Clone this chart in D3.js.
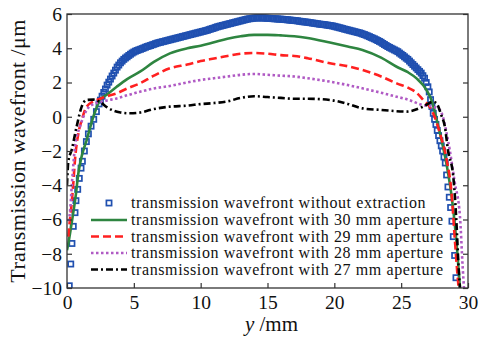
<!DOCTYPE html>
<html>
<head>
<meta charset="UTF-8">
<title></title>
<script src="https://cdn.jsdelivr.net/npm/d3@7"></script>
<style>
  body { margin: 0; background: #fff; }
</style>
</head>
<body>
<div id="chart"></div>
<script>
var serif = "'Liberation Serif', 'Times New Roman', serif";

// tick labels
var xTicks = [0, 5, 10, 15, 20, 25, 30];
var yTicks = [-10, -8, -6, -4, -2, 0, 2, 4, 6];

// legend labels
var labels = [
  "transmission wavefront without extraction",
  "transmission wavefront with 30 mm aperture",
  "transmission wavefront with 29 mm aperture",
  "transmission wavefront with 28 mm aperture",
  "transmission wavefront with 27 mm aperture"
];

// without extraction (square markers)
var blueX = [0.17, 0.28, 0.37, 0.47, 0.6, 0.67, 0.8, 0.92, 1.05, 1.15, 1.3, 1.45, 1.6, 1.8, 2.0, 2.2, 2.4, 2.5,
  2.625, 2.75, 2.875, 3.0, 3.125, 3.25, 3.375, 3.5, 3.625, 3.75, 3.875, 4.0, 4.125, 4.25, 4.375, 4.5, 4.625, 4.75, 4.875, 5.0,
  5.125, 5.25, 5.375, 5.5, 5.625, 5.75, 5.875, 6.0, 6.125, 6.25, 6.375, 6.5, 6.625, 6.75, 6.875, 7.0,
  7.125, 7.25, 7.375, 7.5, 7.625, 7.75, 7.875, 8.0, 8.125, 8.25, 8.375, 8.5, 8.625, 8.75, 8.875, 9.0,
  9.125, 9.25, 9.375, 9.5, 9.625, 9.75, 9.875, 10.0, 10.125, 10.25, 10.375, 10.5, 10.625, 10.75, 10.875, 11.0,
  11.125, 11.25, 11.375, 11.5, 11.625, 11.75, 11.875, 12.0, 12.125, 12.25, 12.375, 12.5, 12.625, 12.75, 12.875, 13.0,
  13.125, 13.25, 13.375, 13.5, 13.625, 13.75, 13.875, 14.0, 14.125, 14.25, 14.375, 14.5, 14.625, 14.75, 14.875, 15.0,
  15.125, 15.25, 15.375, 15.5, 15.625, 15.75, 15.875, 16.0, 16.125, 16.25, 16.375, 16.5, 16.625, 16.75, 16.875, 17.0,
  17.125, 17.25, 17.375, 17.5, 17.625, 17.75, 17.875, 18.0, 18.125, 18.25, 18.375, 18.5, 18.625, 18.75, 18.875, 19.0,
  19.125, 19.25, 19.375, 19.5, 19.625, 19.75, 19.875, 20.0, 20.125, 20.25, 20.375, 20.5, 20.625, 20.75, 20.875, 21.0,
  21.125, 21.25, 21.375, 21.5, 21.625, 21.75, 21.875, 22.0, 22.125, 22.25, 22.375, 22.5, 22.625, 22.75, 22.875, 23.0,
  23.125, 23.25, 23.375, 23.5, 23.625, 23.75, 23.875, 24.0, 24.125, 24.25, 24.375, 24.5, 24.625, 24.75, 24.875, 25.0,
  25.125, 25.25, 25.375, 25.5, 25.625, 25.75, 25.875, 26.0, 26.125, 26.25, 26.375, 26.5, 26.625, 26.75, 26.875, 27.0,
  27.1, 27.2, 27.3, 27.4, 27.5, 27.6, 27.7, 27.8, 27.9, 28.0, 28.1, 28.2, 28.3, 28.4, 28.5, 28.6, 28.7, 28.8, 28.9, 29.0, 29.1];
var blueY = [-9.87, -8.6, -7.4, -6.4, -5.6, -4.9, -4.24, -3.6, -3.0, -2.6, -2.0, -1.45, -1.0, -0.55, -0.15, 0.3, 0.75, 0.97,
  1.2, 1.42, 1.62, 1.85, 2.02, 2.2, 2.38, 2.55, 2.72, 2.9, 3.02, 3.15, 3.25, 3.35, 3.43, 3.5, 3.58, 3.65, 3.72, 3.78,
  3.83, 3.87, 3.91, 3.94, 3.98, 4.02, 4.06, 4.1, 4.13, 4.16, 4.2, 4.23, 4.27, 4.3, 4.33, 4.35,
  4.38, 4.4, 4.43, 4.45, 4.48, 4.5, 4.53, 4.55, 4.58, 4.6, 4.63, 4.65, 4.68, 4.7, 4.73, 4.75,
  4.78, 4.8, 4.83, 4.85, 4.88, 4.9, 4.93, 4.95, 4.98, 5.0, 5.03, 5.05, 5.09, 5.12, 5.15, 5.18,
  5.22, 5.25, 5.28, 5.3, 5.33, 5.35, 5.38, 5.4, 5.43, 5.45, 5.48, 5.5, 5.53, 5.55, 5.58, 5.6,
  5.63, 5.65, 5.68, 5.7, 5.72, 5.73, 5.75, 5.76, 5.77, 5.77, 5.78, 5.77, 5.77, 5.77, 5.76, 5.75,
  5.75, 5.74, 5.73, 5.72, 5.72, 5.71, 5.7, 5.7, 5.69, 5.68, 5.67, 5.66, 5.65, 5.64, 5.63, 5.62,
  5.61, 5.6, 5.58, 5.57, 5.55, 5.54, 5.53, 5.52, 5.5, 5.49, 5.47, 5.46, 5.44, 5.43, 5.41, 5.4,
  5.39, 5.38, 5.36, 5.35, 5.33, 5.32, 5.3, 5.28, 5.25, 5.23, 5.2, 5.18, 5.15, 5.12, 5.1, 5.07,
  5.05, 5.02, 5.0, 4.97, 4.95, 4.92, 4.9, 4.87, 4.83, 4.8, 4.76, 4.72, 4.68, 4.63, 4.59, 4.55,
  4.5, 4.45, 4.4, 4.35, 4.28, 4.22, 4.16, 4.1, 4.05, 4.0, 3.95, 3.9, 3.85, 3.8, 3.72, 3.65,
  3.58, 3.5, 3.42, 3.35, 3.25, 3.15, 3.05, 2.95, 2.85, 2.75, 2.65, 2.55, 2.4, 2.25, 2.0, 1.75,
  1.45, 1.0, 0.6, 0.2, -0.15, -0.45, -0.8, -1.1, -1.4, -1.7, -2.0, -2.35, -2.7, -3.4, -4.1, -4.7, -5.3, -6.1, -7.0, -8.1, -9.4];

// 30 mm aperture
var greenX = [0, 0.1, 0.35, 0.67, 0.85, 1.1, 1.47, 1.97, 2.47, 3.0, 3.72, 4.5, 5.46, 6.5, 7.7, 9, 10, 11, 12, 13, 14, 15, 16, 17, 18,
  19.67, 21, 22.1, 23.5, 24.66, 25.5, 26.15, 26.9, 27.3, 27.6, 28, 28.4, 28.8, 29.1, 29.4];
var greenY = [-7.8, -7.4, -6.2, -4.5, -3.3, -2.3, -1.36, 0.0, 0.98, 1.3, 1.75, 2.2, 2.63, 3.2, 3.7, 4.0, 4.15, 4.35, 4.55, 4.7, 4.78, 4.78, 4.75, 4.7, 4.6,
  4.33, 4.1, 3.9, 3.45, 2.92, 2.6, 2.24, 1.56, 0.9, 0.0, -1.3, -2.8, -4.8, -7.0, -10];

// 29 mm aperture
var redX = [0.1, 0.22, 0.35, 0.47, 0.6, 0.85, 1.1, 1.47, 2.0, 2.47, 3.0, 3.72, 4.5, 5.46, 6.5, 7.7, 9, 10, 11, 12, 13, 14, 15, 16, 17, 18,
  19.67, 21, 22.1, 23.5, 24.66, 25.5, 26.15, 26.65, 27.2, 27.5, 27.9, 28.4, 28.77, 29.0, 29.2, 29.3];
var redY = [-7.0, -6.0, -5.05, -3.9, -2.5, -0.97, -0.2, 0.59, 0.9, 1.05, 1.2, 1.37, 1.65, 1.95, 2.4, 2.83, 3.05, 3.25, 3.4, 3.55, 3.68, 3.72, 3.68, 3.6, 3.55, 3.42,
  3.12, 2.95, 2.73, 2.35, 1.95, 1.7, 1.4, 0.98, 0.5, 0.0, -0.97, -2.5, -4.47, -7.0, -9.1, -10];

// 28 mm aperture
var purpleX = [0.1, 0.22, 0.35, 0.6, 0.97, 1.47, 2.0, 2.47, 3.0, 3.72, 4.5, 5.46, 6.5, 7.7, 9, 10, 11, 12, 13, 14, 15, 16, 17, 18,
  19.67, 21, 22.1, 23.5, 24.66, 25.5, 26.6, 27.3, 27.9, 28.5, 29.0, 29.4, 29.6, 29.7];
var purpleY = [-6.1, -5.6, -4.1, -1.75, -0.58, 0.39, 0.75, 0.85, 0.95, 1.07, 1.25, 1.46, 1.65, 1.8, 2.0, 2.15, 2.25, 2.35, 2.45, 2.5, 2.45, 2.4, 2.35, 2.25,
  2.05, 1.85, 1.66, 1.4, 1.17, 1.0, 0.69, 0.6, 0.39, -1.36, -3.8, -5.84, -8.75, -10];

// 27 mm aperture
var blackX = [0, 0.1, 0.35, 0.72, 1.1, 1.47, 2.0, 2.5, 3.0, 3.5, 4.0, 4.7, 5.5, 6.5, 7.7, 9, 10, 11, 12, 13, 14, 15, 16, 17, 18,
  19.67, 21, 22.1, 23.5, 25.4, 26.65, 27.4, 27.65, 28.0, 28.27, 28.5, 28.9, 29.15, 29.27, 29.4];
var blackY = [-4.0, -2.6, -1.94, -0.58, 0.59, 0.98, 1.0, 0.85, 0.55, 0.35, 0.25, 0.2, 0.25, 0.45, 0.59, 0.65, 0.74, 0.8, 0.9, 1.1, 1.2, 1.15, 1.1, 1.05, 1.05,
  0.98, 0.75, 0.49, 0.4, 0.3, 0.59, 0.88, 0.78, 0.1, -0.58, -1.94, -3.5, -6.4, -8.4, -10];

var width = 483, height = 337;
var margin = {top: 14, right: 15, bottom: 49, left: 67};
var w = width - margin.left - margin.right;
var h = height - margin.top - margin.bottom;

var svg = d3.select("#chart").append("svg")
  .attr("width", width)
  .attr("height", height);

var x = d3.scaleLinear().domain([0, 30]).range([0, w]);
var y = d3.scaleLinear().domain([-10, 6]).range([h, 0]);

var g = svg.append("g").attr("transform", "translate(" + margin.left + "," + margin.top + ")");

svg.append("defs").append("clipPath").attr("id", "clip")
  .append("rect").attr("width", w).attr("height", h);

function pairs(xs, ys) {
  return xs.map(function(v, i) { return [v, ys[i]]; });
}

var series = [
  {data: pairs(greenX, greenY), color: "#2e8540", dash: null},
  {data: pairs(redX, redY), color: "#ff2020", dash: "8,4"},
  {data: pairs(purpleX, purpleY), color: "#b05ac4", dash: "2.5,2.5"},
  {data: pairs(blackX, blackY), color: "#000", dash: "7,3,2,3"}
];

var line = d3.line()
  .x(function(d) { return x(d[0]); })
  .y(function(d) { return y(d[1]); })
  .curve(d3.curveMonotoneX);

var plot = g.append("g").attr("clip-path", "url(#clip)");

// squares
plot.selectAll("rect.sq")
  .data(pairs(blueX, blueY))
  .enter().append("rect")
  .attr("class", "sq")
  .attr("x", function(d) { return x(d[0]) - 2.6; })
  .attr("y", function(d) { return y(d[1]) - 2.6; })
  .attr("width", 5.2)
  .attr("height", 5.2)
  .attr("fill", "none")
  .attr("stroke", "#2050b0")
  .attr("stroke-width", 1.7);

// lines
series.forEach(function(s) {
  plot.append("path")
    .datum(s.data)
    .attr("d", line)
    .attr("fill", "none")
    .attr("stroke", s.color)
    .attr("stroke-width", 2.6)
    .attr("stroke-dasharray", s.dash);
});

// frame
g.append("rect")
  .attr("width", w).attr("height", h)
  .attr("fill", "none").attr("stroke", "#333").attr("stroke-width", 1.3);

// axes (ticks inward)
g.append("g").attr("transform", "translate(0," + h + ")")
  .call(d3.axisBottom(x).tickValues(xTicks).tickSize(-5).tickPadding(7));
g.append("g")
  .call(d3.axisLeft(y).tickValues(yTicks).tickSize(-5).tickPadding(5)
    .tickFormat(function(d) { return d < 0 ? "\u2212" + Math.abs(d) : d; }));
g.append("g").attr("transform", "translate(" + w + ",0)")
  .call(d3.axisRight(y).tickValues(yTicks).tickSize(-5).tickFormat(""));

g.selectAll(".domain").remove();
g.selectAll(".tick line").attr("stroke", "#333").attr("stroke-width", 1.2);
g.selectAll(".tick text")
  .attr("font-family", serif)
  .attr("font-size", 19.5)
  .attr("fill", "#111");

// axis titles
svg.append("text")
  .attr("transform", "translate(25," + (margin.top + h / 2) + ") rotate(-90)")
  .attr("text-anchor", "middle")
  .attr("font-family", serif)
  .attr("font-size", 22)
  .attr("letter-spacing", 0.4)
  .attr("fill", "#111")
  .text("Transmission wavefront /\u03bcm");

var xt = svg.append("text")
  .attr("x", margin.left + w / 2 + 4)
  .attr("y", 331)
  .attr("text-anchor", "middle")
  .attr("font-family", serif)
  .attr("font-size", 21)
  .attr("fill", "#111");
xt.append("tspan").attr("font-style", "italic").text("y");
xt.append("tspan").text(" /mm");

// legend
var legend = svg.append("g");
var rowY = [203, 220, 236.5, 253, 269.5];
legend.append("rect")
  .attr("x", 109 - 2.6).attr("y", rowY[0] - 2.6)
  .attr("width", 5.2).attr("height", 5.2)
  .attr("fill", "none").attr("stroke", "#2050b0").attr("stroke-width", 1.7);
series.forEach(function(s, i) {
  legend.append("line")
    .attr("x1", 91).attr("x2", 127)
    .attr("y1", rowY[i + 1]).attr("y2", rowY[i + 1])
    .attr("stroke", s.color).attr("stroke-width", 2.6)
    .attr("stroke-dasharray", s.dash);
});
labels.forEach(function(t, i) {
  legend.append("text")
    .attr("x", 131).attr("y", rowY[i] + 5)
    .attr("font-family", serif)
    .attr("font-size", 16)
    .attr("letter-spacing", 0.6)
    .attr("fill", "#111")
    .text(t);
});
</script>
</body>
</html>
